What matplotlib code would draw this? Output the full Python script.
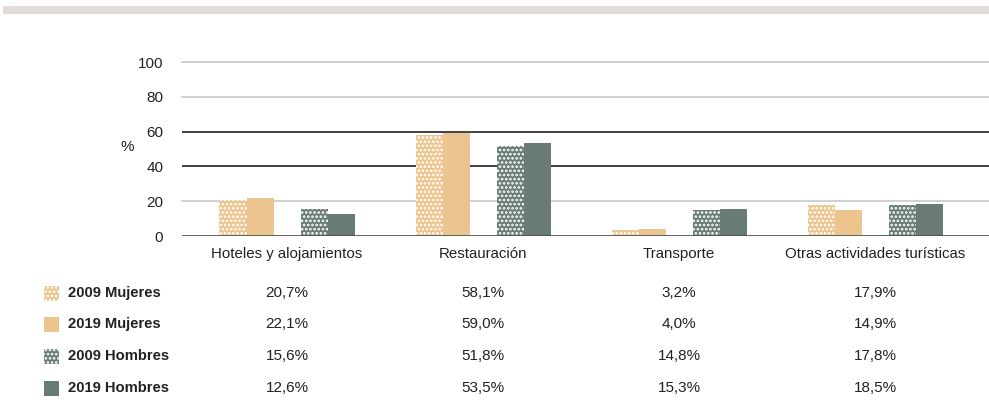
import matplotlib.pyplot as plt
import matplotlib.transforms as mtransforms
from matplotlib.patches import Rectangle
import numpy as np

plt.rcParams['font.family'] = ['Liberation Sans', 'DejaVu Sans']
plt.rcParams['hatch.linewidth'] = 1.3

categorias = ['Hoteles y alojamientos', 'Restauración', 'Transporte', 'Otras actividades turísticas']
series = ['2009 Mujeres', '2019 Mujeres', '2009 Hombres', '2019 Hombres']
mujeres_2009 = [20.7, 58.1, 3.2, 17.9]
mujeres_2019 = [22.1, 59.0, 4.0, 14.9]
hombres_2009 = [15.6, 51.8, 14.8, 17.8]
hombres_2019 = [12.6, 53.5, 15.3, 18.5]
valores = [mujeres_2009, mujeres_2019, hombres_2009, hombres_2019]

col_muj = '#ebc58d'
col_hom = '#687b76'
colores = [col_muj, col_muj, col_hom, col_hom]
tramas = ['....', None, '....', None]
offsets = [-2, -1, 1, 2]
w = 0.138

fig = plt.figure(figsize=(9.89, 4.0), dpi=100)
ax = fig.add_axes([182/989, 164/400, (989-182)/989, 174/400])

# franja gris superior
fig.patches.append(Rectangle((3/989, 386/400), 986/989, 8/400, transform=fig.transFigure,
                             facecolor='#e3dcd9', edgecolor='none'))

# lineas de referencia
for yv in [20, 80, 100]:
    ax.axhline(yv, color='#c9c9c9', lw=1.2, zorder=0, clip_on=False)
for yv in [40, 60]:
    ax.axhline(yv, color='#333333', lw=1.3, zorder=0)

x = np.arange(len(categorias))
for vals, c, h, o in zip(valores, colores, tramas, offsets):
    if h:
        ax.bar(x + o*w, vals, w, color=c, hatch=h, edgecolor='white', linewidth=0, zorder=2)
    else:
        ax.bar(x + o*w, vals, w, color=c, linewidth=0, zorder=2)

ax.axhline(0, color='#555555', lw=2, zorder=3)
ax.set_xlim(-0.536, 3.58)
ax.set_ylim(0, 100)
ax.set_yticks([0, 20, 40, 60, 80, 100])
ax.tick_params(axis='y', length=0, labelsize=11, pad=13.5, colors='#222222')
ax.set_xticks(x)
ax.set_xticklabels(categorias)
ax.tick_params(axis='x', length=0, labelsize=10.8, pad=8, colors='#222222')
for s in ax.spines.values():
    s.set_visible(False)
fig.text(127/989, 1-147/400, '%', fontsize=11, ha='center', va='center', color='#222222')

# tabla de valores
filas_y = [293, 324, 356, 388]
trans = mtransforms.blended_transform_factory(ax.transData, fig.transFigure)
for nombre, vals, c, h, fy in zip(series, valores, colores, tramas, filas_y):
    yf = 1 - fy/400
    fig.patches.append(Rectangle((44/989, yf - 7.5/400), 15/989, 15/400, transform=fig.transFigure,
                                 facecolor=c, hatch=h, edgecolor='white', linewidth=0))
    fig.text(68/989, yf, nombre, fontsize=10.6, fontweight='bold', va='center', ha='left', color='#222222')
    for xi, v in zip(x, vals):
        ax.text(xi, yf, f'{v:.1f}%'.replace('.', ','), transform=trans, fontsize=11,
                ha='center', va='center', color='#222222')

fig.savefig('out.png', dpi=100)
